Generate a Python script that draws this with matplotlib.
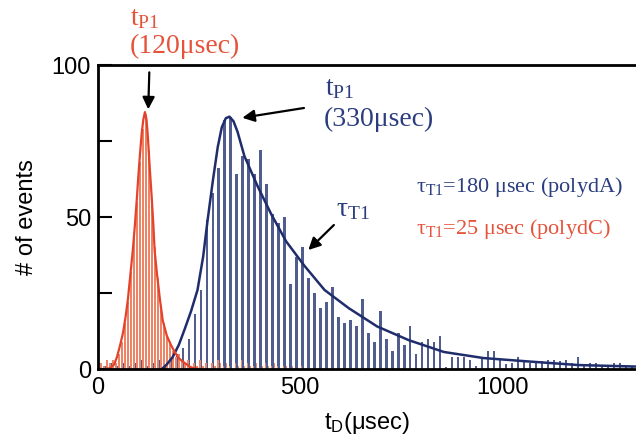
import numpy as np
import matplotlib.pyplot as plt

plt.rcParams['mathtext.fontset'] = 'custom'
plt.rcParams['mathtext.rm'] = 'Liberation Serif'
plt.rcParams['mathtext.it'] = 'Liberation Serif:italic'
plt.rcParams['mathtext.sf'] = 'Liberation Sans'

# blue histogram (polydA), bins of ~14.8 usec
blue_start, blue_step = 2.4, 14.8
blue_h = [0, 1, 2, 1, 2, 1, 2, 3, 1, 2, 3, 1, 3, 5, 7, 10, 18, 26, 49, 58,
          66, 82, 83, 64, 70, 69, 64, 72, 61, 51, 48, 50, 28, 37, 40, 30, 25, 20, 22, 27,
          17, 15, 16, 14, 23, 12, 9, 19, 10, 6, 12, 8, 14, 5, 9, 10, 9, 11, 0.5, 4,
          4, 4, 3, 1, 4, 6, 6, 3, 1.5, 2, 4, 3, 2, 2, 2.5, 3, 3, 2.5, 3, 2,
          4, 1.5, 2, 2, 1, 1, 2, 2, 1, 1]

# red histogram (polydC), bins of ~7.4 usec
red_start, red_step = 0.0, 7.4
red_h = [1, 2, 1, 3, 2, 3, 2, 5, 9, 15, 22, 32, 44, 55, 68, 79, 84, 72, 56, 40,
         30, 21, 15, 11, 9, 6, 4, 5, 3, 2, 3, 1, 2,
         1, 3, 1, 2, 0, 2, 1, 3, 2, 1, 2, 1, 0, 2, 1, 3, 1, 2, 1, 1, 2, 0, 1, 2,
         1, 1, 2, 1, 0, 1, 1, 0, 1, 0, 0, 1, 0]

# fitted curves
blue_fit_x = [158, 170, 185, 200, 214, 230, 246, 260, 271, 284, 296, 306, 316, 325, 335, 345,
              362, 395, 428, 465, 510, 560, 620, 690, 768, 855, 953, 1052, 1187, 1330]
blue_fit_y = [0, 1.5, 4, 8, 13, 19, 26, 37, 49, 62, 73, 79.5, 82.5, 83, 81.5, 78,
              70, 60, 51, 42, 34, 26, 20, 14, 9.5, 5.6, 3.6, 2.6, 1.3, 0.8]
red_fit_x = [20, 30, 40, 47, 55, 62, 68, 74, 80, 86, 91, 96, 100, 104, 108, 112, 116,
             120, 123, 128, 133, 137, 140, 146, 153, 160, 170, 180, 190, 200, 214, 230, 250]
red_fit_y = [0, 0.3, 1.5, 4, 8, 12, 17, 23, 31, 39, 47, 56, 64, 71, 77.5, 82, 84.5,
             82, 77, 66, 56, 47, 39, 31, 23, 16, 11, 8, 5.5, 3.5, 2, 0.5, 0]

blue_bar = '#515d8f'
blue_line = '#1f2d6c'
red_bar = '#ee8466'
red_line = '#e4432b'
blue_txt = '#2b3d7e'
red_txt = '#e5533b'

fig = plt.figure(figsize=(6.36, 4.43), dpi=100)
ax = fig.add_axes([98/636, 1-369/443, 1-98/636, (369-65)/443])

blue_x = blue_start + blue_step*np.arange(len(blue_h))
red_x = red_start + red_step*np.arange(len(red_h))
ax.bar(blue_x, blue_h, width=6.0, color=blue_bar, linewidth=0)
ax.bar(red_x, red_h, width=3.8, color=red_bar, linewidth=0)
ax.plot(blue_fit_x, blue_fit_y, color=blue_line, lw=1.8)
ax.plot(red_fit_x, red_fit_y, color=red_line, lw=1.6)

ax.set_xlim(0, 1330)
ax.set_ylim(0, 100)
ax.spines['right'].set_visible(False)
for s in ['left', 'bottom', 'top']:
    ax.spines[s].set_linewidth(2)
ax.set_yticks([0, 50, 100])
ax.set_yticks([25, 75], minor=True)
ax.set_xticks([0, 500, 1000])
ax.tick_params(axis='y', which='both', direction='in', length=10, width=1.5,
               labelsize=17, pad=5)
ax.tick_params(axis='x', length=0, labelsize=17, pad=6)
for lab in ax.get_xticklabels() + ax.get_yticklabels():
    lab.set_fontfamily('Liberation Sans')

ax.set_ylabel('# of events', fontsize=17, family='Liberation Sans', labelpad=10)
ax.set_xlabel(r'$\mathsf{t_D}$(μsec)', fontsize=17, family='Liberation Sans', labelpad=8)

ser = 'Liberation Serif'
# red peak annotation
ax.text(79, 111, r'$\mathrm{t_{P1}}$', color=red_txt, fontsize=20, clip_on=False,
        va='bottom')
ax.text(78, 106, '(120μsec)', color=red_txt, fontsize=20, family=ser, clip_on=False,
        va='center')
ax.annotate('', xy=(124, 84.5), xytext=(127, 98.5),
            arrowprops=dict(arrowstyle='-|>', color='black', lw=1.6, mutation_scale=18))

# blue peak annotation
ax.text(560, 88, r'$\mathrm{t_{P1}}$', color=blue_txt, fontsize=20, va='bottom')
ax.text(558, 82, '(330μsec)', color=blue_txt, fontsize=20, family=ser, va='center')
ax.annotate('', xy=(350, 82.5), xytext=(516, 86),
            arrowprops=dict(arrowstyle='-|>', color='black', lw=1.6, mutation_scale=18))

# tau annotation
ax.text(588, 53, r'$\mathrm{\tau_{T1}}$', color=blue_txt, fontsize=20, va='center')
ax.annotate('', xy=(515, 38.5), xytext=(588, 48),
            arrowprops=dict(arrowstyle='-|>', color='black', lw=1.6, mutation_scale=18))

ax.text(785, 60, r'$\mathrm{\tau_{T1}}$=180 μsec (polydA)', color=blue_txt,
        fontsize=16, family=ser, va='center')
ax.text(785, 46, r'$\mathrm{\tau_{T1}}$=25 μsec (polydC)', color=red_txt,
        fontsize=16, family=ser, va='center')

fig.savefig('out.png', dpi=100)
